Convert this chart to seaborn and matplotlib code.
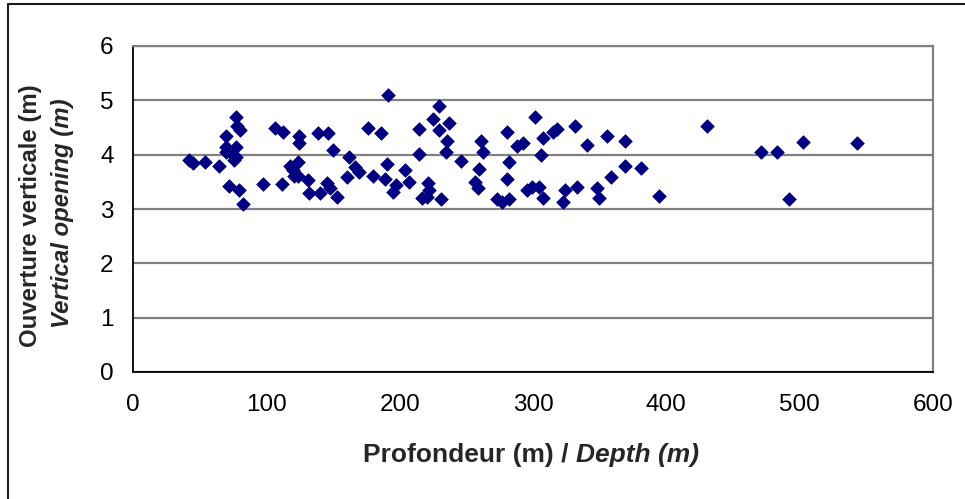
import matplotlib
matplotlib.use("Agg")
import matplotlib.pyplot as plt
from matplotlib.lines import Line2D
import pandas as pd
import seaborn as sns

# Trawl vertical opening versus fishing depth
depth = [
    42.3, 44.7, 54.0, 64.5, 70.0, 70.0, 70.0, 72.0, 75.0, 76.0,
    77.0, 77.0, 77.5, 78.0, 79.5, 80.0, 82.5, 97.5, 106.5, 112.5,
    112.0, 117.8, 120.2, 121.0, 124.0, 124.0, 124.7, 124.7, 131.0, 132.2,
    139.0, 140.2, 145.3, 146.0, 147.7, 150.2, 152.8, 160.8, 162.0, 166.5,
    169.7, 176.5, 180.3, 185.7, 189.0, 190.5, 191.0, 195.2, 197.2, 204.0,
    207.2, 214.7, 214.7, 216.5, 220.2, 221.0, 222.2, 225.2, 229.7, 229.7,
    231.0, 235.0, 235.7, 237.2, 246.0, 256.5, 259.0, 259.7, 261.0, 262.7,
    272.7, 276.5, 280.7, 280.7, 282.2, 282.2, 287.7, 292.5, 295.2, 299.0,
    301.5, 304.7, 306.0, 307.2, 307.7, 315.2, 318.2, 322.2, 324.0, 331.5,
    332.7, 340.2, 348.2, 349.7, 355.7, 358.2, 369.0, 369.0, 381.0, 394.5,
    430.2, 471.0, 482.7, 492.0, 502.2, 542.7,
]
opening = [
    3.90, 3.85, 3.87, 3.79, 4.35, 4.15, 4.05, 3.42, 4.00, 3.90,
    4.70, 4.14, 3.96, 4.52, 3.35, 4.45, 3.10, 3.46, 4.50, 4.42,
    3.46, 3.79, 3.72, 3.61, 3.87, 3.60, 4.34, 4.21, 3.53, 3.29,
    4.39, 3.29, 3.47, 4.39, 3.38, 4.09, 3.23, 3.59, 3.95, 3.78,
    3.69, 4.50, 3.61, 4.39, 3.56, 3.83, 5.10, 3.32, 3.44, 3.72,
    3.50, 4.47, 4.02, 3.20, 3.23, 3.47, 3.35, 4.65, 4.90, 4.45,
    3.18, 4.04, 4.25, 4.58, 3.88, 3.50, 3.38, 3.73, 4.25, 4.04,
    3.18, 3.13, 4.42, 3.55, 3.87, 3.18, 4.16, 4.21, 3.35, 3.41,
    4.69, 3.41, 3.99, 4.31, 3.20, 4.42, 4.48, 3.12, 3.35, 4.53,
    3.40, 4.17, 3.38, 3.21, 4.35, 3.58, 4.25, 3.80, 3.76, 3.24,
    4.53, 4.05, 4.05, 3.18, 4.24, 4.21,
]
x_ticks = [0, 100, 200, 300, 400, 500, 600]
y_ticks = [0, 1, 2, 3, 4, 5, 6]

df = pd.DataFrame({"depth": depth, "opening": opening})

sns.set_style("white")
plt.rcParams["font.family"] = ["Liberation Sans", "DejaVu Sans"]

W, H = 965, 499
fig = plt.figure(figsize=(W / 100, H / 100), dpi=100)
ax = fig.add_axes([133 / W, 1 - 372 / H, 800 / W, 326 / H])

grid_col = "#808080"
navy = "#000080"

sns.scatterplot(data=df, x="depth", y="opening", marker="D", s=48,
                color=navy, edgecolor=navy, linewidth=0.5, ax=ax,
                zorder=3, clip_on=False)

ax.set_xlim(0, 600)
ax.set_ylim(0, 6)
ax.set_xticks(x_ticks)
ax.set_yticks(y_ticks)
ax.set_xticklabels([str(v) for v in x_ticks])
ax.set_yticklabels([str(v) for v in y_ticks])
ax.set_xlabel("")
ax.set_ylabel("")

ax.yaxis.grid(True, color=grid_col, linewidth=1.6)
ax.xaxis.grid(False)
ax.set_axisbelow(True)

for side in ("left", "bottom"):
    ax.spines[side].set_color("#000000")
    ax.spines[side].set_linewidth(1.3)
for side in ("top", "right"):
    ax.spines[side].set_color(grid_col)
    ax.spines[side].set_linewidth(1.6)
ax.spines["bottom"].set_zorder(2.5)

ax.tick_params(axis="x", direction="out", length=5.5, width=1.0,
               colors="black", pad=10, labelsize=17.5)
ax.tick_params(axis="y", direction="out", length=6, width=1.0,
               colors="black", pad=8, labelsize=17.5)

# Two-line bilingual y label
fig.text(31 / W, 1 - 216 / H, "Ouverture verticale (m)", rotation=90,
         ha="center", va="center", fontsize=17.3, fontweight="bold")
fig.text(63 / W, 1 - 213 / H, "Vertical opening (m)", rotation=90,
         ha="center", va="center", fontsize=17.3, fontweight="bold",
         fontstyle="italic")

# Bilingual x label: French part upright, English part italic
xl_size = 19
yb = 1 - 462 / H
t1 = fig.text(0, yb, "Profondeur (m) /", ha="left", va="baseline",
              fontsize=xl_size, fontweight="bold")
t2 = fig.text(0, yb, "Depth (m)", ha="left", va="baseline",
              fontsize=xl_size, fontweight="bold", fontstyle="italic")
fig.canvas.draw()
r = fig.canvas.get_renderer()
w1 = t1.get_window_extent(r).width
w2 = t2.get_window_extent(r).width
gap = 0.28 * xl_size * 100 / 72
total = w1 + gap + w2
x0 = 531 - total / 2
t1.set_x(x0 / W)
t2.set_x((x0 + w1 + gap) / W)

# Outer frame around the chart
fig.add_artist(Line2D([7.5 / W, 7.5 / W], [1 - 3.5 / H, 0], transform=fig.transFigure,
                      color="#1a1a1a", linewidth=1.5))
fig.add_artist(Line2D([7.5 / W, 1], [1 - 3.5 / H, 1 - 3.5 / H], transform=fig.transFigure,
                      color="#1a1a1a", linewidth=1.5))

fig.savefig("out.png", dpi=100)
